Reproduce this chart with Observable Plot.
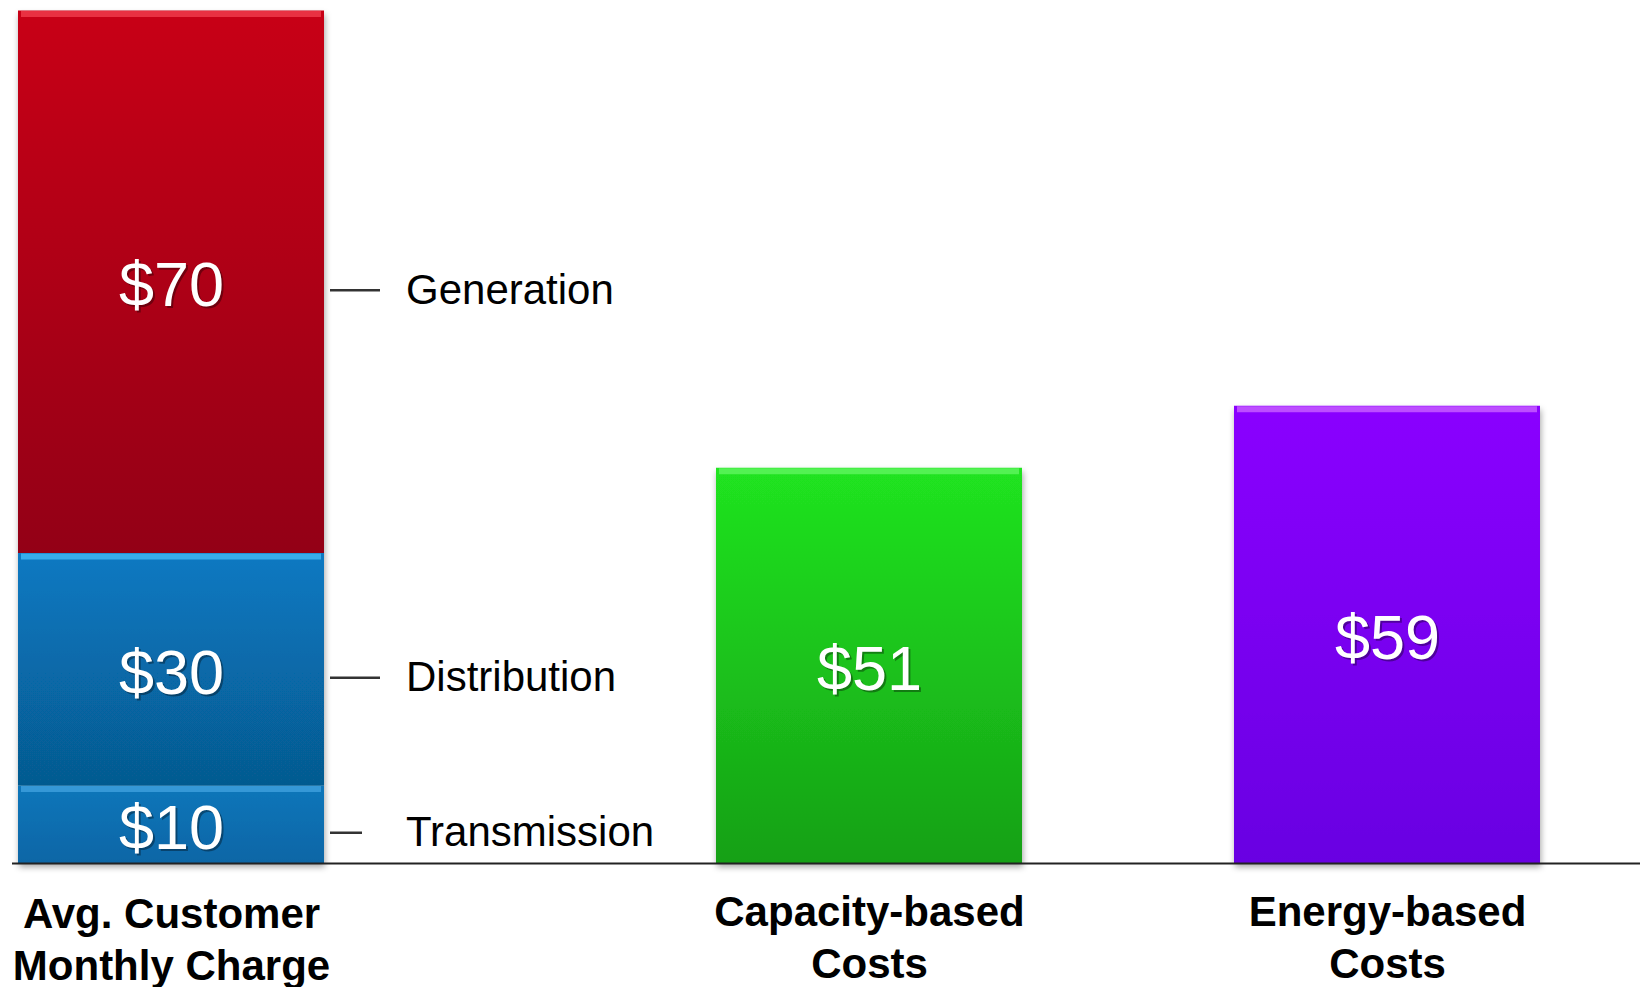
<!DOCTYPE html>
<html>
<head>
<meta charset="utf-8">
<script src="https://cdn.jsdelivr.net/npm/d3@7"></script>
<script src="https://cdn.jsdelivr.net/npm/@observablehq/plot@0.6"></script>
<style>
  html, body { margin: 0; padding: 0; background: #fff; }
  #chart svg { display: block; }
</style>
</head>
<body>
<div id="chart"></div>
<script>
// Monthly charge breakdown vs. cost-based alternatives
const categories = ["Avg. Customer\nMonthly Charge", "Capacity-based\nCosts", "Energy-based\nCosts"];
const components = ["Transmission", "Distribution", "Generation"];
const componentValues = [10, 30, 70];
const costCategories = ["Capacity-based\nCosts", "Energy-based\nCosts"];
const costValues = [51, 59];

// Fill gradients (top colour, bottom colour, bevel highlight)
const palette = {
  Transmission: ["#0b76ba", "#0966a6", "#3d9fdc"],
  Distribution: ["#0879c2", "#065a90", "#3fb6f4"],
  Generation:   ["#c80618", "#930412", "#ee3a4a"],
  "Capacity-based\nCosts": ["#20e420", "#16a016", "#5cf45c"],
  "Energy-based\nCosts":   ["#8a06ff", "#6906e2", "#c65cff"]
};
const gradId = k => "grad-" + k.replace(/[^A-Za-z]/g, "");

const stacked = components.map((c, i) => ({category: categories[0], component: c, value: componentValues[i]}));
const costs = costCategories.map((c, i) => ({category: c, value: costValues[i]}));

// Layout: band step 519px, bar 307px; the breakdown bar sits further left
const BAND = 307;
const SHIFT = -180;
const LEADER_SHORT = 33;
const LEADER_LONG = 51;
const font = "'Liberation Sans', Arial, Helvetica, sans-serif";

const chart = Plot.plot({
  width: 1640,
  height: 987,
  marginLeft: 12,
  marginRight: 0,
  marginTop: 10.5,
  marginBottom: 124,
  style: {fontFamily: font, background: "#fff"},
  x: {domain: categories, range: [-15.5, 1753.5], paddingInner: 0.4085, paddingOuter: 0.4085, axis: null},
  y: {domain: [0, 110], axis: null},
  color: {type: "identity"},
  marks: [
    // bars
    Plot.barY(stacked, Plot.stackY({x: "category", y: "value", fill: d => `url(#${gradId(d.component)})`, dx: SHIFT})),
    Plot.barY(costs, {x: "category", y: "value", fill: d => `url(#${gradId(d.category)})`}),
    // bevel highlight along each top edge
    Plot.tickY(stacked, Plot.stackY2({x: "category", y: "value", stroke: d => palette[d.component][2], strokeWidth: 6, dy: 3, dx: SHIFT, insetLeft: 3, insetRight: 3, strokeOpacity: 0.85})),
    Plot.tickY(costs, {x: "category", y: "value", stroke: d => palette[d.category][2], strokeWidth: 6, dy: 3, insetLeft: 3, insetRight: 3, strokeOpacity: 0.85}),
    // baseline
    Plot.ruleY([0], {stroke: "#222", strokeWidth: 2}),
    // value labels (soft shadow, then white text)
    Plot.text(stacked, Plot.stackY({x: "category", y: "value", text: d => `$${d.value}`, fill: "#000", fillOpacity: 0.35, fontSize: 63, dx: SHIFT + 2, dy: 6})),
    Plot.text(stacked, Plot.stackY({x: "category", y: "value", text: d => `$${d.value}`, fill: "#fff", fontSize: 63, dx: SHIFT, dy: 4})),
    Plot.text(costs, {x: "category", y: d => d.value / 2, text: d => `$${d.value}`, fill: "#000", fillOpacity: 0.35, fontSize: 63, dx: 2, dy: 6}),
    Plot.text(costs, {x: "category", y: d => d.value / 2, text: d => `$${d.value}`, fill: "#fff", fontSize: 63, dy: 4}),
    // component leader lines: a short stub for every segment, extended for all but the bottom one
    Plot.tickY(stacked, Plot.stackY({x: "category", y: "value", stroke: "#333", strokeWidth: 2.5, dx: SHIFT + BAND + 5, dy: 8, insetRight: BAND - LEADER_SHORT})),
    Plot.tickY(stacked, Plot.stackY({x: "category", y: "value", stroke: d => d.component === "Transmission" ? "none" : "#333", strokeWidth: 2.5, dx: SHIFT + BAND + 5, dy: 8, insetLeft: LEADER_SHORT - 1, insetRight: BAND - LEADER_LONG})),
    Plot.text(stacked, Plot.stackY({x: "category", y: "value", text: "component", textAnchor: "start", fill: "#000", fontSize: 42, dx: SHIFT + BAND / 2 + 81, dy: 8})),
    // category labels under the baseline
    Plot.text([categories[0]], {x: d => d, text: d => d, frameAnchor: "bottom", lineAnchor: "top", dy: 28, dx: SHIFT, fontSize: 42, fontWeight: "bold", lineHeight: 52 / 42, fill: "#000"}),
    Plot.text(costCategories, {x: d => d, text: d => d, frameAnchor: "bottom", lineAnchor: "top", dy: 26, fontSize: 42, fontWeight: "bold", lineHeight: 52 / 42, fill: "#000"})
  ]
});

// gradient and shadow definitions
const svg = d3.select(chart);
const defs = svg.insert("defs", ":first-child");
for (const [key, [top, bottom]] of Object.entries(palette)) {
  const g = defs.append("linearGradient").attr("id", gradId(key)).attr("x1", 0).attr("y1", 0).attr("x2", 0).attr("y2", 1);
  g.append("stop").attr("offset", "0%").attr("stop-color", top);
  g.append("stop").attr("offset", "100%").attr("stop-color", bottom);
}
const f = defs.append("filter").attr("id", "barShadow").attr("x", "-10%").attr("y", "-10%").attr("width", "120%").attr("height", "120%");
f.append("feDropShadow").attr("dx", 1).attr("dy", 4).attr("stdDeviation", 3).attr("flood-color", "#000").attr("flood-opacity", 0.35);
svg.selectAll('g[aria-label="bar"]').attr("filter", "url(#barShadow)");

document.getElementById("chart").appendChild(chart);
</script>
</body>
</html>
